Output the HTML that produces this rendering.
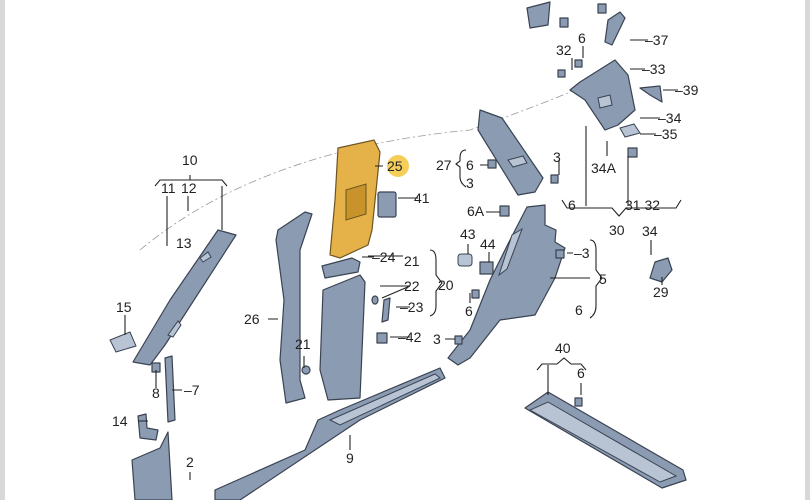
<!DOCTYPE html>
<html><head><meta charset="utf-8"><style>
html,body{margin:0;padding:0;background:#fff;}
svg{display:block}
text{font-family:"Liberation Sans",sans-serif;font-size:14px;fill:#222}
.p{fill:#8a9bb2;stroke:#3a4352;stroke-width:1.2;stroke-linejoin:round}
.l{fill:#b8c4d4;stroke:#3a4352;stroke-width:1}
.ln{stroke:#222;stroke-width:1.1;fill:none}
</style></head><body>
<svg width="810" height="500" viewBox="0 0 810 500">
<rect x="0" y="0" width="5" height="500" fill="#d8d8d8"/>
<rect x="805" y="0" width="5" height="500" fill="#d8d8d8"/>
<path d="M140,250 Q260,150 470,130 Q540,105 580,88" stroke="#999" stroke-width="0.8" fill="none" stroke-dasharray="8,3,2,3"/>
<path class="p" d="M218,230 L236,235 L165,345 L150,365 L133,362 L170,300 Z"/>
<path class="l" d="M200,258 l8,-6 l3,5 l-8,5z M168,335 l10,-14 l3,4 l-8,12z"/>
<path class="l" d="M110,340 L130,332 L136,346 L116,352 Z"/>
<path class="p" d="M165,358 L172,356 L175,420 L168,422 Z"/>
<rect class="p" x="152" y="363" width="8" height="9"/>
<path class="p" d="M138,416 L146,414 L147,428 L158,430 L156,440 L140,438 Z"/>
<path class="p" d="M135,500 L132,460 L160,448 L168,432 L172,500 Z"/>
<path class="p" d="M278,230 L305,212 L312,214 L300,250 L300,380 L305,398 L286,403 L280,360 L284,300 L276,240 Z"/>
<path d="M338,148 L374,140 L380,152 L372,230 L368,245 L340,258 L330,255 L335,200 Z" fill="#e5b24a" stroke="#6b5420" stroke-width="1.2"/>
<path d="M346,190 l20,-6 l0,30 l-20,6z" fill="#c9932c" stroke="#6b5420"/>
<rect class="p" x="378" y="192" width="18" height="25" rx="2"/>
<path class="p" d="M322,266 L352,258 L360,262 L358,272 L325,278 Z"/>
<path class="p" d="M323,290 L360,275 L365,282 L360,398 L328,400 L320,370 Z"/>
<path class="p" d="M384,300 l6,-2 l-2,22 l-6,2z"/>
<rect class="p" x="377" y="333" width="10" height="10"/>
<ellipse class="p" cx="375" cy="300" rx="3" ry="4"/>
<ellipse class="p" cx="306" cy="370" rx="4" ry="4"/>
<path class="p" d="M215,500 L215,490 L305,450 L318,420 L340,410 L440,368 L445,378 L360,420 L240,500 Z"/>
<path class="l" d="M330,420 L435,374 L440,378 L340,425Z"/>
<path class="p" d="M480,110 L502,118 L543,178 L535,192 L518,195 L478,130 Z"/>
<path class="l" d="M508,160 l15,-4 l4,7 l-14,4z"/>
<path class="p" d="M527,207 L545,205 L545,225 L556,230 L555,242 L565,248 L555,278 L535,315 L500,320 L470,358 L458,365 L448,358 L470,330 L490,280 L510,240 Z"/>
<path class="l" d="M512,235 l10,-6 l-15,40 l-8,6z"/>
<rect class="p" x="500" y="206" width="9" height="10"/>
<rect class="l" x="458" y="254" width="14" height="12" rx="3"/>
<rect class="p" x="480" y="262" width="13" height="12"/>
<rect class="p" x="556" y="250" width="8" height="8"/>
<rect class="p" x="488" y="160" width="8" height="8"/>
<rect class="p" x="551" y="175" width="7" height="8"/>
<rect class="p" x="472" y="290" width="7" height="8"/>
<rect class="p" x="455" y="336" width="7" height="8"/>
<path class="p" d="M655,262 L668,258 L672,270 L662,282 L650,278 Z"/>
<path class="p" d="M525,408 L548,392 L683,470 L686,480 L662,488 Z"/>
<path class="l" d="M530,410 L660,482 L676,476 L548,402Z"/>
<rect class="p" x="575" y="398" width="7" height="8"/>
<path class="p" d="M580,82 L615,60 L628,75 L635,110 L618,125 L605,130 L585,100 L570,90 Z"/>
<path class="l" d="M598,98 l12,-3 l2,10 l-12,3z"/>
<path class="p" d="M527,8 L550,2 L548,25 L530,28 Z"/>
<rect class="p" x="560" y="18" width="8" height="9"/>
<path class="p" d="M608,20 L620,12 L625,18 L612,45 L605,42 Z"/>
<rect class="p" x="598" y="4" width="8" height="9"/>
<path class="p" d="M640,88 L660,86 L662,102 L650,95 Z"/>
<path class="l" d="M620,128 l14,-4 l6,9 l-15,4z"/>
<rect class="p" x="628" y="148" width="9" height="9"/>
<rect class="p" x="558" y="70" width="7" height="7"/>
<rect class="p" x="575" y="60" width="7" height="7"/>
<g class="ln">
<path d="M155,186 l5,-6 h62 l5,6 M190,175 v5"/>
<path d="M167,196 v50 M188,196 v15 M222,186 v44"/>
<path d="M125,315 v20 M156,370 v18 M182,390 h-10 M138,421 h10 M190,472 v8"/>
<path d="M268,319 h10 M304,356 v12 M350,450 v-15"/>
<path d="M383,166 h-8 M418,198 h-20 M374,257 h-12 M410,286 l-28,12 M410,307 h-14 M410,337 h-20"/>
<path d="M430,250 q6,0 6,10 v15 l6,8 l-6,8 v15 q0,8 -6,10"/>
<path d="M368,256 h35 M380,286 h30"/>
<path d="M466,150 q-6,0 -6,8 v3 l-4,3 l4,3 v10 q0,6 6,10"/>
<path d="M480,165 h8 M559,160 v15 M486,212 h14 M468,244 v10 M489,252 v10 M573,253 h-6"/>
<path d="M590,240 q6,0 6,10 v20 l6,8 l-6,8 v20 q0,8 -6,12 M590,278 h-40"/>
<path d="M470,303 v-10 M445,339 h10"/>
<path d="M562,200 l5,8 h45 l7,8 l7,-8 h50 l5,-8"/>
<path d="M586,206 v-80 M628,206 v-50"/>
<path d="M537,370 l5,-6 h15 l7,-6 l7,6 h10 l5,6 M548,365 v30 M581,383 v12"/>
<path d="M572,58 v12 M583,46 v12 M648,40 h-18 M645,69 h-15 M678,90 h-15 M660,118 h-20 M656,134 h-16 M607,156 v-15 M651,240 v15 M662,285 v-8"/>
</g>
<circle cx="398" cy="166" r="11" fill="#f2c230" opacity="0.8"/>
<text x="182" y="165">10</text>
<text x="161" y="193">11</text><text x="181" y="193">12</text><text x="176" y="248">13</text>
<text x="116" y="312">15</text><text x="152" y="398">8</text><text x="184" y="395">–7</text>
<text x="112" y="426">14</text><text x="186" y="467">2</text>
<text x="244" y="324">26</text><text x="295" y="349">21</text><text x="346" y="463">9</text>
<text x="387" y="171">25</text><text x="414" y="203">41</text><text x="372" y="262">–24</text>
<text x="404" y="266">21</text><text x="404" y="291">22</text><text x="400" y="312">–23</text>
<text x="438" y="290">20</text><text x="398" y="342">–42</text><text x="433" y="344">3</text>
<text x="436" y="170">27</text><text x="466" y="170">6</text><text x="466" y="188">3</text>
<text x="553" y="162">3</text><text x="467" y="216">6A</text><text x="460" y="239">43</text><text x="480" y="249">44</text>
<text x="574" y="258">–3</text><text x="599" y="284">5</text><text x="575" y="315">6</text>
<text x="465" y="316">6</text>
<text x="556" y="55">32</text><text x="578" y="43">6</text><text x="645" y="45">–37</text>
<text x="642" y="74">–33</text><text x="675" y="95">–39</text><text x="658" y="123">–34</text>
<text x="654" y="139">–35</text><text x="591" y="173">34A</text>
<text x="568" y="210">6</text><text x="625" y="210">31 32</text><text x="609" y="235">30</text>
<text x="642" y="236">34</text><text x="653" y="297">29</text>
<text x="555" y="353">40</text><text x="577" y="378">6</text>
</svg>
</body></html>
